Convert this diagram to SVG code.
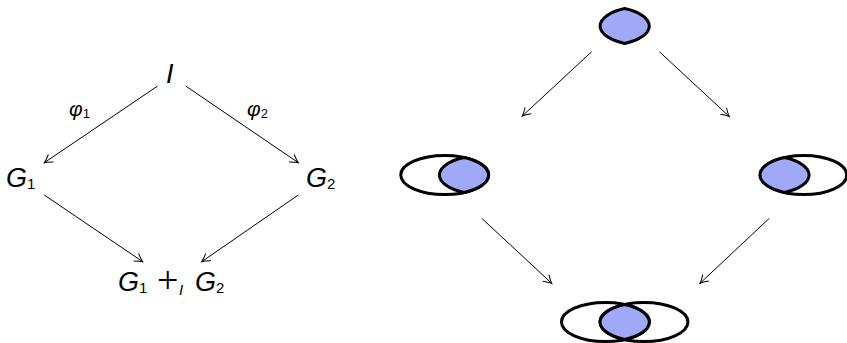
<svg xmlns="http://www.w3.org/2000/svg" width="847" height="343" viewBox="0 0 847 343">
<style>
.m{font-family:"Liberation Sans",Arial,sans-serif;font-style:italic;font-size:27px;fill:#000}
.s{font-style:normal;font-size:15px}
.si{font-family:"Liberation Sans",Arial,sans-serif;font-style:italic;font-size:15px;fill:#000}
.ph{font-family:"Liberation Sans",Arial,sans-serif;font-style:italic;font-size:21px;fill:#000}
.ps{font-style:normal;font-size:13px}
.pl{font-family:"Liberation Serif","Times New Roman",serif;font-size:38px;fill:#000}
.e{fill:none;stroke:#000;stroke-width:3}
.lens{fill:#a0a8f8;stroke:#000;stroke-width:3}
.c{fill:none;stroke:#000;stroke-width:1}
</style>
<defs>
<marker id="ah" markerUnits="userSpaceOnUse" markerWidth="14" markerHeight="12" viewBox="-10 -6 12 12" refX="0" refY="0" orient="auto">
<path d="M -8,-4.5 Q -3,-1 0,0 Q -3,1 -8,4.5" fill="none" stroke="#000" stroke-width="1"/>
</marker>
<path id="lensShape" d="M 0,-17.5 A 44 19.5 0 0 1 0,17.5 A 44 19.5 0 0 1 0,-17.5 Z"/>
</defs>

<g id="node-I"><text class="m" x="166" y="83">I</text></g>
<g id="node-G1"><text class="m" x="6" y="187">G<tspan class="s" dy="2">1</tspan></text></g>
<g id="node-G2"><text class="m" x="306" y="187">G<tspan class="s" dy="2">2</tspan></text></g>
<g id="node-sum">
<text class="m" x="118" y="291">G<tspan class="s" dy="2">1</tspan></text>
<text class="pl" x="157" y="293">+</text>
<text class="si" x="179" y="295">I</text>
<text class="m" x="195" y="291">G<tspan class="s" dy="2">2</tspan></text>
</g>
<g id="label-phi1"><text class="ph" x="69" y="116">φ<tspan class="ps" dy="2">1</tspan></text></g>
<g id="label-phi2"><text class="ph" x="247" y="116">φ<tspan class="ps" dy="2">2</tspan></text></g>

<g id="node-top"><use href="#lensShape" class="lens" transform="translate(624.7,26)"/></g>
<g id="node-left">
<ellipse class="e" cx="444.75" cy="175" rx="44" ry="19.5"/>
<use href="#lensShape" class="lens" transform="translate(464,175)"/>
</g>
<g id="node-right">
<ellipse class="e" cx="803.75" cy="175" rx="43" ry="19.5"/>
<use href="#lensShape" class="lens" transform="translate(784.5,175)"/>
</g>
<g id="node-bottom">
<ellipse class="e" cx="605.45" cy="322" rx="44" ry="19.5"/>
<ellipse class="e" cx="643.95" cy="322" rx="44" ry="19.5"/>
<use href="#lensShape" class="lens" transform="translate(624.7,322)"/>
</g>

<g id="connectors">
<line class="c" x1="157.7" y1="86" x2="44.3" y2="162.7" marker-end="url(#ah)"/>
<line class="c" x1="185.7" y1="86" x2="298.3" y2="162.7" marker-end="url(#ah)"/>
<line class="c" x1="44.3" y1="195" x2="142.7" y2="261.7" marker-end="url(#ah)"/>
<line class="c" x1="298.3" y1="195" x2="201.7" y2="261.7" marker-end="url(#ah)"/>
<line class="c" x1="591.7" y1="51.7" x2="522.3" y2="116" marker-end="url(#ah)"/>
<line class="c" x1="659.3" y1="51.7" x2="729.3" y2="116.5" marker-end="url(#ah)"/>
<line class="c" x1="481.7" y1="218.3" x2="551.7" y2="283.3" marker-end="url(#ah)"/>
<line class="c" x1="769.3" y1="218.3" x2="700" y2="283.3" marker-end="url(#ah)"/>
</g>
</svg>
